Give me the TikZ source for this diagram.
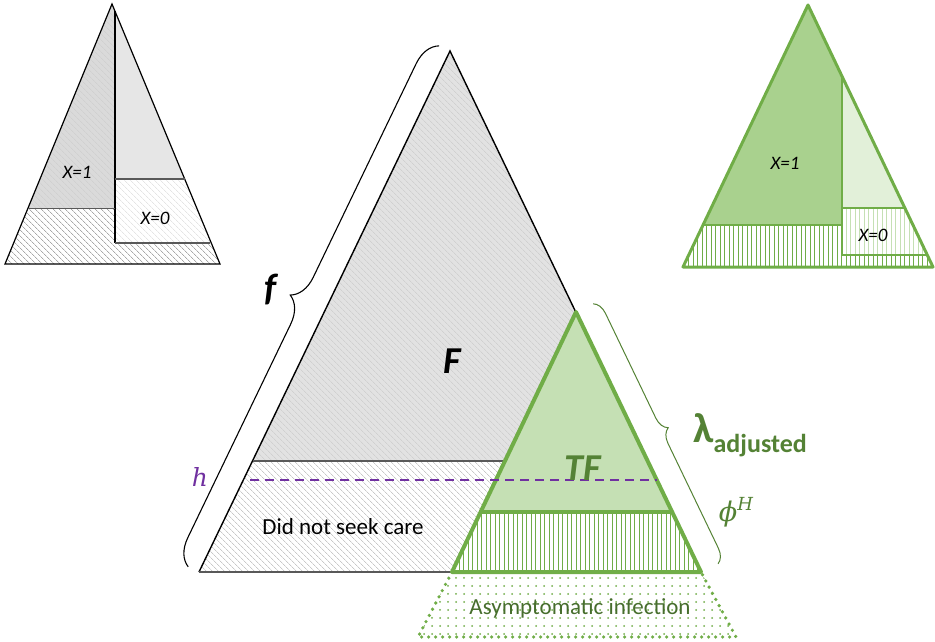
\documentclass[tikz,border=0pt]{standalone}
\usepackage{fontspec}
\setmainfont{Carlito}
\newfontfamily\mathserif{DejaVu Serif}
\usetikzlibrary{patterns.meta,decorations.pathreplacing,calc}
\definecolor{gstroke}{HTML}{70AD47}
\definecolor{gmid}{HTML}{A9D18E}
\definecolor{glight}{HTML}{C5E0B4}
\definecolor{gpale}{HTML}{E2F0D9}
\definecolor{gdark}{HTML}{548235}
\definecolor{purp}{HTML}{7030A0}
\definecolor{grayA}{HTML}{DADADA}
\definecolor{grayB}{HTML}{E6E6E6}
\definecolor{grayF}{HTML}{E2E2E2}
\definecolor{hatchF}{HTML}{D0D0D0}
\definecolor{hatchL}{HTML}{C8C8C8}
\definecolor{hatchD}{HTML}{A8A8A8}
\definecolor{hatchP}{HTML}{E4E4E4}
\definecolor{boxline}{HTML}{595959}
\tikzset{
  hatchdark/.style={pattern={Lines[angle=-45,distance=4pt,line width=0.8pt]},pattern color=hatchD},
  hatchlight/.style={pattern={Lines[angle=-45,distance=4pt,line width=0.7pt]},pattern color=hatchL},
  hatchpale/.style={pattern={Lines[angle=-45,distance=4pt,line width=0.7pt]},pattern color=hatchP},
  hatchgray/.style={fill=#1,postaction={pattern={Lines[angle=-45,distance=4pt,line width=0.7pt]},pattern color=hatchF}},
  vlines/.style={pattern={Lines[angle=90,distance=4.5pt,line width=1pt]},pattern color=gstroke},
  vlinespale/.style={pattern={Lines[angle=90,distance=4.5pt,line width=0.8pt]},pattern color=glight},
  gdots/.style={pattern={Dots[distance=8pt,radius=1pt]},pattern color=gstroke},
  gline/.style={draw=gstroke,line width=3pt,line join=round},
  lbl/.style={inner sep=0pt},
}
\begin{document}
\begin{tikzpicture}[x=1pt,y=-1pt]
\useasboundingbox (0,0) rectangle (935,642);

% ---------------- top-left triangle ----------------
\coordinate (tlA) at (112,4);
\coordinate (tlL) at (5,264);
\coordinate (tlR) at (220,264);
\coordinate (tlD1) at (115,11);
\coordinate (tlD2) at (115,243);
\coordinate (tlH1) at (28,208);
\coordinate (tlH2) at (115,208);
\coordinate (tlB1) at (115,179);
\coordinate (tlB2) at (184.6,179);
\coordinate (tlB3) at (210.4,243);
\path[hatchdark] (tlH1) -- (tlH2) -- (tlD2) -- (tlB3) -- (tlR) -- (tlL) -- cycle;
\path[hatchgray=grayA] (tlA) -- (tlH1) -- (tlH2) -- (tlD1) -- cycle;
\path[fill=grayB] (tlD1) -- (tlB2) -- (tlB1) -- cycle;
\path[hatchpale] (tlB1) -- (tlB2) -- (tlB3) -- (tlD2) -- cycle;
\draw[black,line width=1.2pt,line join=miter] (tlL) -- (tlA) -- (tlR) -- cycle;
\draw[black,line width=1.4pt] (tlD1) -- (tlD2);
\draw[boxline,line width=1pt] (tlH1) -- (tlH2);
\draw[boxline,line width=1.8pt] (tlB1) -- (tlB2);
\draw[boxline,line width=1.8pt] (tlD2) -- (tlB3);
\node[lbl,font=\fontsize{19}{21}\selectfont\itshape] (tlx1) at (77,172) {X=1};
\node[lbl,font=\fontsize{19}{21}\selectfont\itshape] (tlx0) at (155,218) {X=0};

% ---------------- top-right triangle ----------------
\coordinate (trA) at (808,5);
\coordinate (trL) at (683,267);
\coordinate (trR) at (933,267);
\coordinate (trD1) at (842,76);
\coordinate (trD2) at (842,255);
\coordinate (trH1) at (703,225);
\coordinate (trH2) at (842,225);
\coordinate (trB1) at (842,208);
\coordinate (trB2) at (904.8,208);
\coordinate (trB3) at (927.2,255);
\path[vlines] (trH1) -- (trH2) -- (trD2) -- (trB3) -- (trR) -- (trL) -- cycle;
\path[fill=gmid] (trA) -- (trH1) -- (trH2) -- (trD1) -- cycle;
\path[fill=gpale] (trD1) -- (trB2) -- (trB1) -- cycle;
\path[vlinespale] (trB1) -- (trB2) -- (trB3) -- (trD2) -- cycle;
\draw[gline] (trL) -- (trA) -- (trR) -- cycle;
\draw[gstroke,line width=2.6pt] (trD1) -- (trD2);
\draw[gstroke,line width=2.6pt] (trH1) -- (trH2);
\draw[gstroke,line width=2.6pt] (trB1) -- (trB2);
\draw[gstroke,line width=2.6pt] (trD2) -- (trB3);
\node[lbl,font=\fontsize{19}{21}\selectfont\itshape] (trx1) at (785,163) {X=1};
\node[lbl,font=\fontsize{19}{21}\selectfont\itshape] (trx0) at (873,235) {X=0};

% ---------------- main grey triangle ----------------
\coordinate (mA) at (450,51);
\coordinate (mL) at (199,572);
\coordinate (mR) at (701,572);
\coordinate (mH1) at (252.5,461);
\coordinate (mH2) at (647.5,461);
\coordinate (mH3) at (504,461);
\path[hatchgray=grayF] (mA) -- (mH1) -- (mH2) -- cycle;
\path[hatchlight] (mH1) -- (mH2) -- (mR) -- (mL) -- cycle;
\draw[black,line width=1.4pt,line join=miter] (mL) -- (mA) -- (mR);
\draw[boxline,line width=1.5pt] (mH1) -- (mH3);
\draw[boxline,line width=1.5pt] (mL) -- (mR);

% ---------------- asymptomatic region ----------------
\coordinate (aL) at (418,637);
\coordinate (aR) at (736,637);
\coordinate (gL) at (452,572);
\coordinate (gR) at (701,572);
\coordinate (gA) at (576,312);
\coordinate (gH1) at (479.6,512);
\coordinate (gH2) at (672.4,512);
\path[fill=white] (gL) -- (aL) -- (aR) -- (gR) -- cycle;
\path[gdots] (gL) -- (aL) -- (aR) -- (gR) -- cycle;
\draw[gstroke,line width=3.6pt,line cap=round,dash pattern=on 0pt off 7pt] (gL) -- (aL) -- (aR) -- (gR);

% ---------------- green TF triangle ----------------
\path[fill=glight] (gA) -- (gH1) -- (gH2) -- cycle;
\path[fill=white] (gH1) -- (gH2) -- (gR) -- (gL) -- cycle;
\path[vlines] (gH1) -- (gH2) -- (gR) -- (gL) -- cycle;
\draw[gstroke,line width=4pt,line join=round] (gL) -- (gA) -- (gR) -- cycle;
\draw[gstroke,line width=3.5pt] (gH1) -- (gH2);

% ---------------- h line ----------------
\coordinate (hL) at (250,480);
\coordinate (hR) at (657,480);
\draw[purp,line width=2pt,dash pattern=on 9pt off 6pt] (hL) -- (hR);

% ---------------- braces ----------------
\coordinate (fb1) at ($(mL)+(-10.8,-5.2)$);
\coordinate (fb2) at ($(mA)+(-10.8,-5.2)$);
\draw[black,line width=1.1pt,decorate,decoration={brace,amplitude=26pt}] (fb1) -- (fb2);
\coordinate (lb1) at ($(gA)+(17.1,-8.2)$);
\coordinate (lb2) at ($(gR)+(17.1,-8.2)$);
\draw[gdark,line width=1pt,decorate,decoration={brace,amplitude=14pt}] (lb1) -- (lb2);

% ---------------- labels ----------------
\node[lbl,font=\fontsize{38}{40}\selectfont\bfseries\itshape] (Flab) at (452,361) {F};
\node[lbl,text=gdark,font=\fontsize{38}{40}\selectfont\bfseries\itshape] (TFlab) at (583,468) {TF};
\node[lbl,font=\fontsize{23}{25}\selectfont] (dnsc) at (343,527) {Did not seek care};
\node[lbl,text=gdark!85!black,font=\fontsize{23}{25}\selectfont] (asym) at (580,608) {Asymptomatic infection};
\node[lbl,font=\fontsize{38}{40}\selectfont\bfseries\itshape] (flab) at (271,290) {f};
\node[lbl,text=purp,font=\fontsize{25}{27}\selectfont\mathserif\itshape] (hlab) at (200,477) {h};
\node[lbl,anchor=base west,text=gdark,font=\bfseries] (lam) at (693,442) {\fontsize{42}{44}\selectfont λ\raisebox{-10pt}{\fontsize{26}{28}\selectfont adjusted}};
\node[lbl,text=gdark,font=\mathserif\itshape] (phi) at (736,512) {\fontsize{27}{29}\selectfont ϕ\raisebox{11pt}{\fontsize{18}{20}\selectfont H}};
\end{tikzpicture}
\end{document}
